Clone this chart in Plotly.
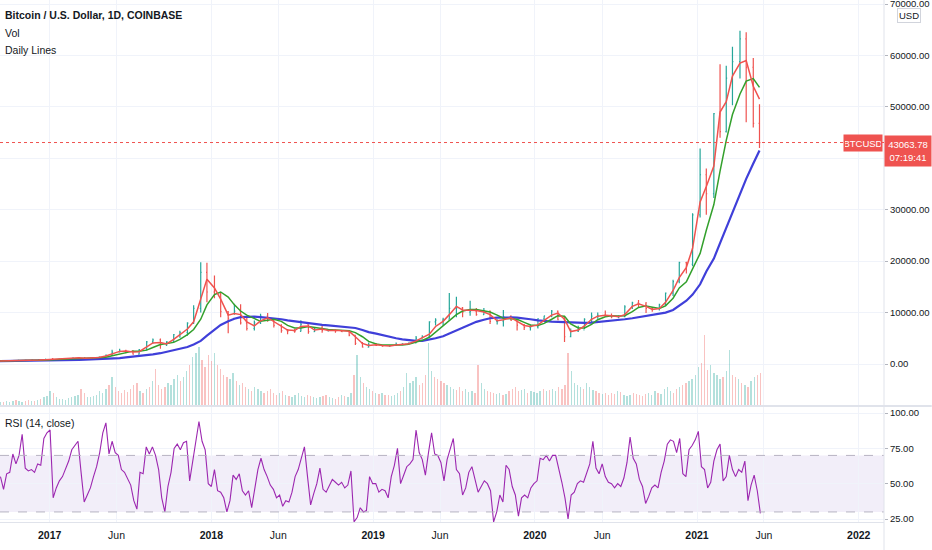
import pandas as pd
import plotly.graph_objects as go

# ---------------- data ----------------
# semi-monthly bars: periods starting 1st / 15th, Sep 2016 .. May 2021
price_close = [
    605, 608, 640, 700, 710, 740, 790, 960,
    820, 970, 1010, 1190, 1240, 1080, 1180, 1350, 1750, 2300, 2500, 2480, 1930, 2750, 4300, 4700, 3700, 4350, 5700, 6130, 7950, 10800, 17800, 14000,
    13600, 10200, 8900, 10300, 8000, 6900, 8000, 9300, 8500, 7500, 6500, 6400, 6350, 7700, 6300, 7000, 6500, 6600, 6450, 6300, 5600, 4000, 3300, 3700,
    3600, 3450, 3600, 3800, 3950, 4100, 5050, 5300, 8200, 8550, 8700, 10800, 10900, 10100, 10300, 9600, 10300, 8300, 8350, 9150, 8500, 7550, 7100, 7200,
    8800, 9350, 10300, 8600, 5300, 6400, 6650, 8700, 9300, 9450, 9400, 9150, 9200, 11100, 11900, 11650, 10800, 10780, 11500, 13800, 16000, 19700, 19400, 29000,
    36800, 33100, 48700, 45200, 55600, 58800, 63200, 57700, 46800, 43063.78,
]
price_high = [
    610, 612, 645, 720, 740, 755, 795, 975,
    1150, 1000, 1050, 1200, 1290, 1180, 1210, 1360, 1850, 2760, 2980, 2750, 2700, 2900, 4480, 4970, 4980, 4400, 5850, 6460, 8100, 11400, 19800, 19700,
    17200, 14000, 10300, 11700, 11600, 9200, 8450, 9750, 9900, 8600, 7750, 6800, 6800, 8500, 7700, 7100, 7400, 6800, 6700, 6600, 6500, 5600, 4300, 4200,
    4100, 3700, 3700, 4200, 4000, 4150, 5450, 5600, 8300, 8900, 9000, 13800, 13100, 11100, 12300, 10900, 10900, 10400, 8700, 10500, 9500, 8700, 7800, 7700,
    8900, 9400, 10500, 10400, 9200, 6900, 7450, 8900, 10000, 10000, 10400, 9800, 9450, 11400, 12100, 12450, 12050, 11100, 11700, 13900, 16400, 19900, 19900, 29300,
    41900, 38000, 48800, 58300, 58000, 61700, 64800, 64500, 59500, 50500,
]
price_low = [
    570, 595, 605, 630, 690, 700, 740, 780,
    750, 880, 960, 1000, 1100, 900, 1070, 1160, 1340, 1750, 2350, 2100, 1830, 1850, 2680, 3990, 2970, 3500, 4300, 5100, 5500, 7800, 10000, 12000,
    12800, 9100, 6000, 9600, 7700, 6500, 6500, 7800, 8200, 7100, 6100, 5800, 6100, 6300, 5880, 6200, 6100, 6300, 6100, 6200, 5400, 3700, 3200, 3200,
    3500, 3350, 3380, 3550, 3750, 3900, 4050, 4950, 5300, 7500, 7500, 8700, 9100, 9100, 9400, 9400, 9600, 7800, 7700, 7300, 8400, 6500, 6600, 6500,
    6900, 8500, 9100, 8500, 4300, 5200, 6200, 6800, 8100, 8800, 9300, 8900, 8900, 9100, 10700, 11100, 9900, 10150, 10400, 11300, 13200, 15700, 17600, 19000,
    28500, 29000, 32300, 44000, 45000, 50300, 55500, 47000, 46000, 42000,
]
first_open = 575

ma_fast = [  # red
    585, 600, 620, 660, 700, 725, 760, 850,
    930, 920, 990, 1080, 1200, 1100, 1110, 1250, 1550, 2000, 2450, 2550, 2350, 2400, 3300, 4100, 4200, 3900, 4800, 5700, 6800, 8200, 12500, 16500,
    14800, 12600, 9500, 9800, 9600, 8200, 7400, 8400, 9000, 8200, 7300, 6600, 6500, 7300, 7400, 6600, 6800, 6500, 6550, 6450, 6350, 5300, 4000, 3600,
    3750, 3600, 3500, 3700, 3850, 3950, 4500, 5100, 5800, 7300, 8300, 9600, 11200, 10500, 10400, 10400, 10100, 9600, 8400, 8600, 9000, 8300, 7500, 7300,
    7600, 8500, 9500, 9900, 8700, 6300, 6600, 7400, 8700, 9300, 9500, 9400, 9200, 9600, 11200, 11700, 11200, 10600, 10800, 12000, 14300, 16800, 18800, 22500,
    31500, 34500, 38500, 49000, 51000, 56000, 58500, 59000, 54000, 51500,
]
ma_mid = [  # green
    580, 590, 605, 630, 670, 700, 730, 780,
    850, 900, 930, 1000, 1080, 1120, 1110, 1150, 1300, 1600, 1950, 2300, 2500, 2500, 2700, 3200, 3800, 4000, 4200, 4800, 5700, 6700, 8700, 11500,
    13500, 14000, 13000, 11500, 10300, 9500, 8800, 8300, 8500, 8700, 8300, 7500, 7000, 7000, 7300, 7100, 6800, 6700, 6600, 6500, 6450, 6100, 5300, 4400,
    3900, 3700, 3650, 3620, 3700, 3850, 4200, 4600, 5200, 6200, 7300, 8400, 9600, 10300, 10600, 10600, 10400, 10100, 9500, 8900, 8800, 8700, 8100, 7600,
    7500, 7900, 8700, 9400, 9300, 7800, 7000, 7000, 7700, 8600, 9200, 9400, 9350, 9400, 10200, 11000, 11300, 11000, 10800, 11300, 12800, 14800, 16000, 18500,
    21500, 26000, 31000, 37500, 43500, 48500, 52500, 55000, 55500, 53800,
]
ma_slow = [  # blue
    560, 570, 580, 590, 600, 615, 630, 650,
    680, 710, 740, 770, 810, 850, 890, 930, 990, 1060, 1160, 1280, 1400, 1520, 1680, 1880, 2100, 2350, 2600, 2900, 3300, 3800, 4500, 5500,
    6600, 7600, 8300, 8800, 9100, 9200, 9200, 9100, 9000, 8900, 8700, 8500, 8300, 8100, 7900, 7750, 7600, 7500, 7400, 7300, 7200, 7000, 6600, 6200,
    5900, 5600, 5300, 5000, 4800, 4600, 4500, 4500, 4700, 5000, 5400, 5900, 6500, 7100, 7700, 8200, 8600, 8900, 9000, 9050, 9050, 9000, 8900, 8700,
    8500, 8350, 8250, 8200, 8150, 8050, 8000, 8000, 8050, 8150, 8250, 8350, 8500, 8700, 8900, 9100, 9300, 9500, 9700, 10000, 10500, 11300, 12300, 13500,
    15500, 18000, 20500, 23500, 26500, 29500, 33000, 36000, 39000, 41500,
]

# weekly RSI(14) and volume (relative units)
rsi = [
    55, 46, 57, 58, 71, 64, 70, 85, 61, 59, 60, 58, 64, 63, 82, 86, 88, 40, 47, 52,
    55, 60, 66, 74, 77, 80, 58, 37, 42, 47, 55, 62, 72, 86, 93, 71, 80, 72, 70, 60,
    58, 53, 49, 38, 32, 58, 57, 76, 71, 76, 70, 60, 40, 30, 48, 58, 75, 78, 74, 79,
    80, 52,
    66, 77, 94, 80, 74, 50, 48, 60, 45, 44, 40, 30, 38, 56, 53, 57, 45, 42, 45, 33,
    47, 60, 68, 60, 55, 49, 46, 40, 42, 34, 38, 37, 44, 55, 60, 68, 76, 55, 35, 43,
    50, 61, 46, 44, 49, 53, 51, 49, 51, 47, 49, 59, 23, 26, 33, 30, 31, 55, 50, 50,
    44,
    46, 45, 40, 55, 63, 75, 50, 56, 62, 64, 67, 88, 72, 67, 56, 72, 86, 71, 70, 65,
    52, 67, 75, 82, 60, 57, 42, 47, 58, 62, 53, 44, 48, 52, 50, 45, 23, 30, 42, 37,
    63, 60, 48, 42, 27, 40, 42, 40, 47, 50, 52, 68, 67, 70, 66, 70, 70, 61, 51, 40,
    25, 42,
    44, 50, 52, 51, 58, 64, 80, 61, 57, 64, 55, 51, 50, 47, 50, 48, 54, 65, 83, 68,
    64, 53, 48, 36, 41, 47, 49, 47, 58, 66, 78, 81, 80, 72, 82, 57, 55, 74, 77, 81,
    87, 62, 60, 47, 51, 66, 74, 78, 52, 55, 70, 60, 55, 60, 58, 66, 38, 49, 56, 45,
    29,
]
volume = [
    3, 3, 4, 3, 4, 5, 4, 3, 4, 5, 4, 4, 5, 6, 8, 9, 14, 12, 8, 6,
    6, 5, 7, 8, 9, 10, 16, 12, 8, 8, 9, 10,
    14, 12, 16, 20, 28, 18, 14, 12, 15, 13, 16, 20, 22, 14, 12, 16, 18, 24, 36, 20,
    16, 18, 22, 20, 26, 30, 24, 28, 34,
    40, 48, 52, 58, 45, 38, 50, 44, 52, 40, 36, 30, 28, 26, 32,
    24, 20, 22, 18, 16, 14, 18, 16, 14, 12, 14, 16, 12, 10, 12, 14, 10, 9, 8, 10,
    12, 9, 8, 10, 9, 8, 7, 8, 9, 10, 8, 7, 6, 8, 10, 9, 8, 12, 30,
    50, 28, 22, 18, 16, 14, 12, 11, 12, 10, 10,
    9, 10, 12, 14, 18, 32, 22, 24, 28, 20, 22, 30, 62, 34, 28, 26, 24,
    22, 20, 18, 16, 15, 18, 14, 16, 13, 14, 12, 40, 22, 16, 14, 13, 12, 11, 12, 10,
    11, 14, 16, 18, 14, 15, 16, 12, 14, 13, 12, 14, 16,
    14, 15, 16, 14, 18, 16, 20, 52, 34, 22,
    20, 18, 16, 22, 18, 15, 14, 12, 11, 12, 10, 12, 11, 14, 13, 10, 9, 10, 12, 11,
    10, 9, 11, 12, 10, 14, 12, 11, 16, 18, 14, 12, 16, 18, 20,
    22, 24, 26, 30, 38, 42, 70, 35, 40, 32, 30, 26, 28, 34, 55, 30, 28, 26, 22, 20,
    18, 24, 28, 30, 32,
]

last_price = 43063.78
countdown = "07:19:41"
price_ticks = [0, 10000, 20000, 30000, 40000, 50000, 60000, 70000]
rsi_ticks = [25, 50, 75, 100]
x_tick_dates = ["2017-01-01", "2017-06-01", "2018-01-01", "2018-06-01", "2019-01-01", "2019-06-01",
                "2020-01-01", "2020-06-01", "2021-01-01", "2021-06-01", "2022-01-01"]
x_tick_text = ["<b>2017</b>", "Jun", "<b>2018</b>", "Jun", "<b>2019</b>", "Jun",
               "<b>2020</b>", "Jun", "<b>2021</b>", "Jun", "<b>2022</b>"]

# ---------------- positions ----------------
candle_dates = pd.date_range("2016-09-01", periods=len(price_close), freq="SMS") + pd.Timedelta(days=7)
week_dates = pd.date_range("2016-09-12", periods=len(rsi), freq="7D")
price_open = [first_open] + price_close[:-1]
vol_colors = ["rgba(38,166,154,0.35)" if (i == 0 or rsi[i] >= rsi[i - 1]) else "rgba(239,83,80,0.35)"
              for i in range(len(volume))]

FONT = "Liberation Sans, Arial, sans-serif"
TXT = "#131722"
GRID = "#f0f3fa"
RED = "#ef5350"

fig = go.Figure()

fig.add_trace(go.Bar(x=week_dates, y=volume, marker=dict(color=vol_colors, line=dict(width=0)),
                     width=3 * 86400000, xaxis="x", yaxis="y2", hoverinfo="skip"))
fig.add_trace(go.Ohlc(x=candle_dates, open=price_open, high=price_high, low=price_low, close=price_close,
                      increasing=dict(line=dict(color="#26a69a", width=1.2)),
                      decreasing=dict(line=dict(color=RED, width=1.2)),
                      tickwidth=0.15, xaxis="x", yaxis="y", hoverinfo="skip"))
fig.add_trace(go.Scatter(x=candle_dates, y=ma_slow, mode="lines", line=dict(color="#3f3fd9", width=2.2),
                         xaxis="x", yaxis="y", hoverinfo="skip"))
fig.add_trace(go.Scatter(x=candle_dates, y=ma_mid, mode="lines", line=dict(color="#33a02c", width=1.5),
                         xaxis="x", yaxis="y", hoverinfo="skip"))
fig.add_trace(go.Scatter(x=candle_dates, y=ma_fast, mode="lines", line=dict(color="#f0524e", width=1.5),
                         xaxis="x", yaxis="y", hoverinfo="skip"))
fig.add_trace(go.Scatter(x=week_dates, y=rsi, mode="lines", line=dict(color="#9c27b0", width=1.1),
                         xaxis="x2", yaxis="y3", hoverinfo="skip"))

PLOT_H = 522.0
def py(pix):
    return 1 - pix / PLOT_H

xrange = ["2016-09-11", "2022-02-27"]
fig.update_layout(
    width=932, height=550,
    margin=dict(l=0, r=48, t=0, b=28, autoexpand=False),
    paper_bgcolor="white", plot_bgcolor="white",
    showlegend=False,
    font=dict(family=FONT, size=10, color=TXT),
    bargap=0,
    xaxis=dict(domain=[0, 1], anchor="y", range=xrange, type="date", tickvals=x_tick_dates,
               showticklabels=False, showgrid=True, gridcolor=GRID, zeroline=False, automargin=False,
               rangeslider=dict(visible=False), fixedrange=True),
    xaxis2=dict(domain=[0, 1], anchor="y3", range=xrange, type="date", matches="x", automargin=False,
                tickvals=x_tick_dates, ticktext=x_tick_text, showgrid=True, gridcolor=GRID,
                zeroline=False, showline=True, linecolor="#e0e3eb", linewidth=1,
                tickfont=dict(family=FONT, size=10.5, color=TXT), ticks="", ticklabelstandoff=3),
    yaxis=dict(domain=[py(405), 1], side="right", range=[-7972, 70778], tickvals=price_ticks,
               tickformat=".2f", showgrid=True, gridcolor=GRID, zeroline=False, automargin=False,
               ticklabeloverflow="allow",
               ticks="outside", ticklen=3, tickcolor="#b2b5be", tickfont=dict(size=9.5, color=TXT)),
    yaxis2=dict(domain=[py(405), 1], overlaying="y", range=[0, 405], visible=False),
    yaxis3=dict(domain=[0, py(407)], side="right", anchor="x2", range=[22.88, 104.25], tickvals=rsi_ticks,
                tickformat=".2f", showgrid=True, gridcolor=GRID, zeroline=False, automargin=False,
                ticklabeloverflow="allow",
                ticks="outside", ticklen=3, tickcolor="#b2b5be", tickfont=dict(size=9.5, color=TXT)),
)

shapes = [
    # RSI band
    dict(type="rect", xref="paper", yref="y3", x0=0, x1=1, y0=30, y1=70,
         fillcolor="rgba(126,87,194,0.10)", line=dict(width=0), layer="below"),
    dict(type="line", xref="paper", yref="y3", x0=0, x1=1, y0=70, y1=70,
         line=dict(color="#b7b3c2", width=1, dash="dash")),
    dict(type="line", xref="paper", yref="y3", x0=0, x1=1, y0=30, y1=30,
         line=dict(color="#b7b3c2", width=1, dash="dash")),
    # pane separator
    dict(type="line", xref="paper", yref="paper", x0=0, x1=1.054, y0=py(406), y1=py(406),
         line=dict(color="#e0e3eb", width=2)),
    # price axis border
    dict(type="line", xref="paper", yref="paper", x0=1, x1=1, y0=-28 / PLOT_H, y1=1,
         line=dict(color="#e0e3eb", width=1)),
    # last price dotted line
    dict(type="line", xref="paper", yref="y", x0=0, x1=1, y0=last_price, y1=last_price,
         line=dict(color=RED, width=1, dash="dot")),
]
fig.update_layout(shapes=shapes)

ann = [
    dict(text="<b>Bitcoin / U.S. Dollar, 1D, COINBASE</b>", x=0, y=py(15)),
    dict(text="Vol", x=0, y=py(33)),
    dict(text="Daily Lines", x=0, y=py(50)),
    dict(text="RSI (14, close)", x=0, y=py(423)),
]
annotations = [dict(xref="paper", yref="paper", xanchor="left", yanchor="middle", xshift=3,
                    showarrow=False, font=dict(family=FONT, size=10.5, color=TXT), **a) for a in ann]
annotations += [
    dict(text="BTCUSD", xref="paper", yref="y", x=1, y=last_price, xanchor="right", yanchor="middle",
         xshift=-1, showarrow=False, bgcolor=RED, width=36, height=14,
         font=dict(family=FONT, size=9.5, color="white")),
    dict(text=f"{last_price:.2f}<br>{countdown}", xref="paper", yref="y", x=1, y=last_price,
         xanchor="left", yanchor="top", xshift=0, yshift=8, showarrow=False, bgcolor=RED,
         width=44, height=28, font=dict(family=FONT, size=9.5, color="white")),
    dict(text="USD", xref="paper", yref="paper", x=1, y=1, xanchor="left", yanchor="top",
         xshift=13, yshift=-8, showarrow=False, bgcolor="white", bordercolor="#d1d4dc",
         borderwidth=1, borderpad=1, font=dict(family=FONT, size=9.5, color=TXT)),
]
fig.update_layout(annotations=annotations)

fig.write_html("out.html", config={"displayModeBar": False, "staticPlot": True},
               post_script="document.body.style.margin='0';document.body.style.overflow='hidden';")
